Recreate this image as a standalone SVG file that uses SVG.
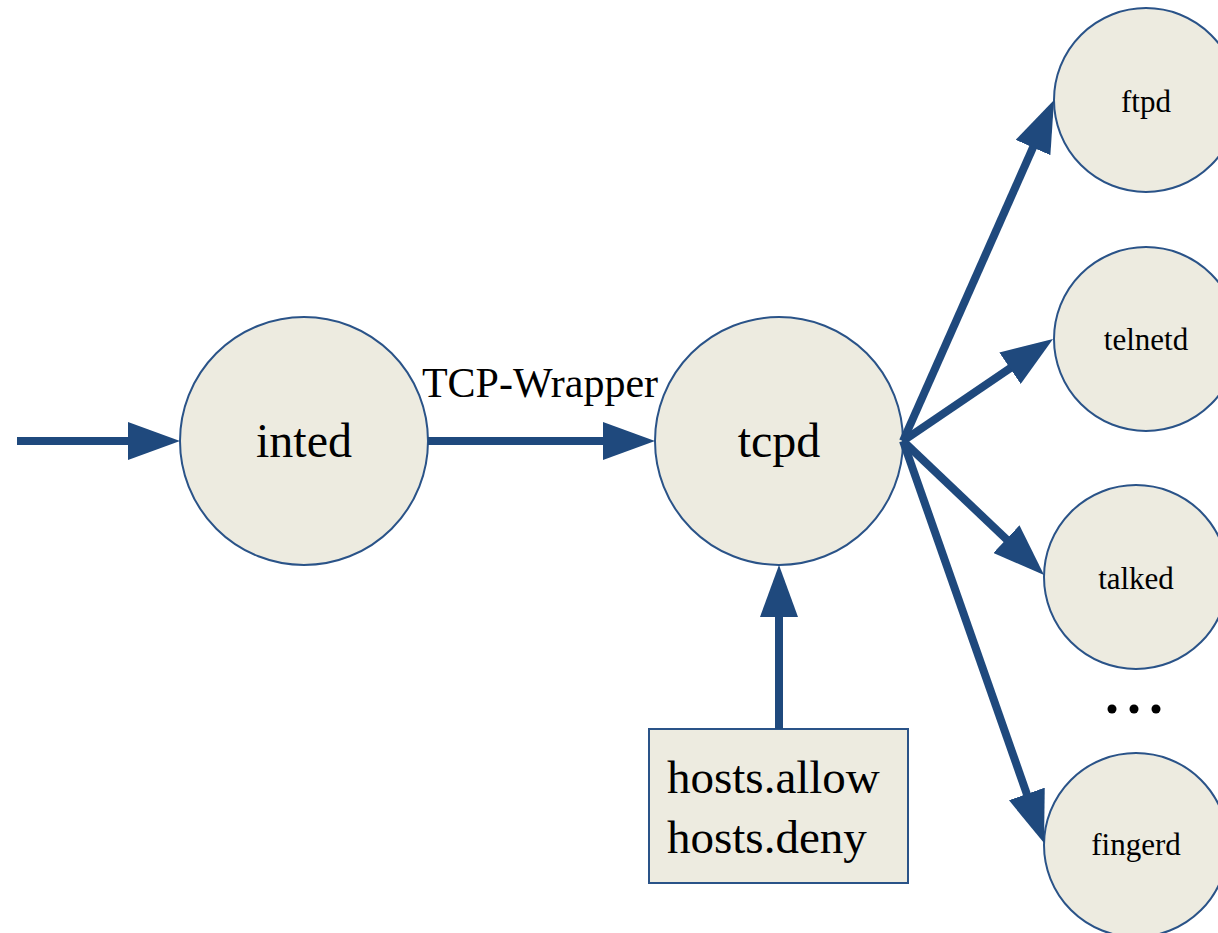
<svg xmlns="http://www.w3.org/2000/svg" width="1218" height="933" viewBox="0 0 1218 933">
<style>
.node{fill:#EDEBE0;stroke:#2A5388;stroke-width:2}
.edge{stroke:#1F497D;stroke-width:8;fill:none}
.t{font-family:"Liberation Serif","Times New Roman",serif;fill:#000}
.big{font-size:48px;text-anchor:middle}
.small{font-size:31px;text-anchor:middle}
</style>
<defs>
<marker id="ah" markerUnits="userSpaceOnUse" markerWidth="52" markerHeight="38" refX="22" refY="19" orient="auto">
<path d="M0,0 L52,19 L0,38 z" fill="#1F497D"/>
</marker>
</defs>
<rect width="1218" height="933" fill="#fff"/>
<g id="inted"><circle class="node" cx="304" cy="441" r="124"/><text class="t big" x="304" y="457">inted</text></g>
<g id="tcpd"><circle class="node" cx="779" cy="441" r="124"/><text class="t big" x="779" y="457">tcpd</text></g>
<g id="ftpd"><circle class="node" cx="1146" cy="100" r="92"/><text class="t small" x="1146" y="112">ftpd</text></g>
<g id="telnetd"><circle class="node" cx="1146" cy="339" r="92"/><text class="t small" x="1146" y="350">telnetd</text></g>
<g id="talked"><circle class="node" cx="1136" cy="577" r="92"/><text class="t small" x="1136" y="589">talked</text></g>
<g id="fingerd"><circle class="node" cx="1136" cy="845" r="92"/><text class="t small" x="1136" y="855">fingerd</text></g>
<g id="hosts"><rect class="node" x="649" y="729" width="259" height="154"/><text class="t" font-size="47" x="667" y="793">hosts.allow</text><text class="t" font-size="47" x="667" y="853">hosts.deny</text></g>
<g id="ellipsis" fill="#000"><circle cx="1112" cy="709" r="4.5"/><circle cx="1134" cy="709" r="4.5"/><circle cx="1156" cy="709" r="4.5"/></g>
<g id="connectors">
<line class="edge" x1="17" y1="441" x2="150" y2="441" marker-end="url(#ah)"/>
<line class="edge" x1="428" y1="441" x2="625" y2="441" marker-end="url(#ah)"/>
<line class="edge" x1="779" y1="729" x2="779" y2="595" marker-end="url(#ah)"/>
<line class="edge" x1="903" y1="441" x2="1041.9" y2="127.4" marker-end="url(#ah)"/>
<line class="edge" x1="903" y1="441" x2="1028.2" y2="355.9" marker-end="url(#ah)"/>
<line class="edge" x1="903" y1="441" x2="1022.3" y2="554.3" marker-end="url(#ah)"/>
<line class="edge" x1="903" y1="441" x2="1034.1" y2="814.7" marker-end="url(#ah)"/>
<text class="t" font-size="42" x="540" y="397" text-anchor="middle">TCP-Wrapper</text>
</g>
</svg>
